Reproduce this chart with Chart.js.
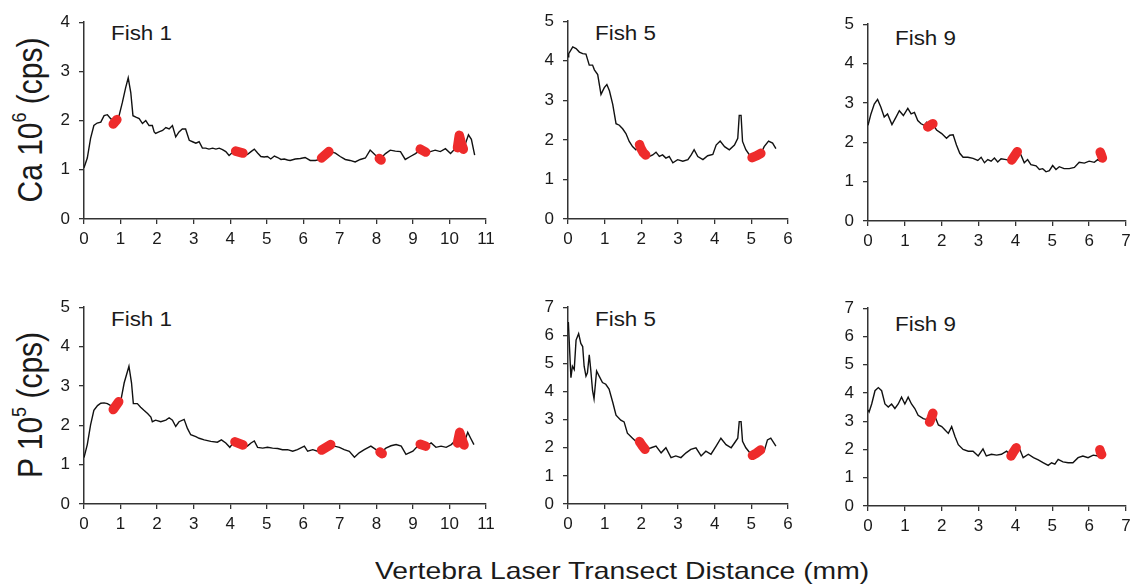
<!DOCTYPE html>
<html><head><meta charset="utf-8">
<script src="https://cdn.jsdelivr.net/npm/chart.js@4.4.1/dist/chart.umd.min.js"></script>
<style>
html,body{margin:0;padding:0;background:#fff;width:1133px;height:587px;overflow:hidden;position:relative;font-family:"Liberation Sans",Arial,sans-serif;color:#1a1a1a}
canvas.pc{position:absolute}
.lbl{position:absolute;font-size:20px;line-height:20px;white-space:nowrap;transform:scaleX(1.12);transform-origin:0 0}
.ytitle{position:absolute;font-size:30px;line-height:30px;white-space:nowrap;transform:translate(-50%,-50%) scaleX(1.17) rotate(-90deg)}
.ytitle sup{font-size:18px;line-height:0;position:relative;top:-2px}
.xtitle{position:absolute;font-size:24px;line-height:24px;white-space:nowrap;transform:scaleX(1.18);transform-origin:0 0}
</style>
</head><body>
<div class="ytitle" style="left:30px;top:120px">Ca 10<sup>6</sup> (cps)</div>
<div class="ytitle" style="left:30px;top:405px">P 10<sup>5</sup> (cps)</div>
<div class="xtitle" style="left:375px;top:559px">Vertebra Laser Transect Distance (mm)</div>
<div class="lbl" style="left:111px;top:23px">Fish 1</div>
<div class="lbl" style="left:595px;top:23px">Fish 5</div>
<div class="lbl" style="left:895px;top:28px">Fish 9</div>
<div class="lbl" style="left:111px;top:309px">Fish 1</div>
<div class="lbl" style="left:595px;top:309px">Fish 5</div>
<div class="lbl" style="left:895px;top:314px">Fish 9</div>
<script>
// ---------- DATA ----------
const fish1CaX = [0.00,0.09,0.18,0.27,0.36,0.46,0.55,0.64,0.73,0.85,0.96,1.05,1.14,1.21,1.28,1.34,1.42,1.51,1.60,1.69,1.78,1.87,1.92,1.96,2.05,2.15,2.24,2.33,2.42,2.51,2.60,2.69,2.78,2.88,2.97,3.06,3.15,3.24,3.33,3.42,3.52,3.61,3.70,3.79,3.88,3.97,4.06,4.15,4.25,4.36,4.47,4.57,4.66,4.75,4.84,4.93,5.02,5.11,5.21,5.30,5.39,5.48,5.57,5.64,5.78,5.92,6.05,6.19,6.33,6.46,6.60,6.74,6.88,7.01,7.15,7.28,7.42,7.56,7.70,7.83,7.97,8.10,8.25,8.38,8.52,8.66,8.79,8.93,9.07,9.20,9.35,9.48,9.61,9.75,9.89,10.03,10.12,10.25,10.40,10.52,10.60,10.69];
const fish1CaY = [1.04,1.24,1.64,1.90,1.95,1.97,2.10,2.12,2.04,1.97,2.10,2.37,2.67,2.87,2.57,2.10,2.07,2.04,1.94,2.00,1.90,1.90,1.77,1.74,1.77,1.80,1.86,1.83,1.90,1.67,1.77,1.83,1.83,1.60,1.57,1.54,1.57,1.44,1.44,1.42,1.44,1.42,1.44,1.41,1.37,1.29,1.35,1.38,1.37,1.33,1.31,1.37,1.42,1.34,1.27,1.26,1.27,1.22,1.28,1.25,1.21,1.22,1.20,1.19,1.22,1.23,1.25,1.19,1.19,1.21,1.29,1.37,1.34,1.27,1.21,1.19,1.16,1.21,1.24,1.40,1.30,1.22,1.33,1.40,1.38,1.37,1.21,1.27,1.33,1.40,1.37,1.37,1.40,1.37,1.43,1.33,1.40,1.45,1.45,1.71,1.62,1.30];
const fish1CaRedX = [0.80,0.90,null,4.15,4.35,null,6.50,6.70,null,8.08,8.13,null,9.20,9.35,null,10.22,10.27,10.32,10.38];
const fish1CaRedY = [1.93,2.02,null,1.38,1.34,null,1.24,1.37,null,1.23,1.20,null,1.42,1.36,null,1.45,1.70,1.55,1.42];

const fish1PX = [0.00,0.09,0.18,0.27,0.37,0.46,0.55,0.64,0.73,0.87,1.00,1.10,1.23,1.30,1.35,1.46,1.55,1.64,1.74,1.83,1.87,1.96,2.10,2.24,2.33,2.42,2.51,2.60,2.74,2.83,2.92,3.06,3.15,3.29,3.47,3.65,3.76,3.88,3.99,4.11,4.25,4.38,4.47,4.57,4.66,4.75,4.89,5.02,5.16,5.30,5.43,5.57,5.71,5.84,6.03,6.12,6.26,6.39,6.55,6.70,6.85,6.99,7.12,7.26,7.40,7.53,7.67,7.85,7.99,8.13,8.26,8.40,8.54,8.68,8.81,9.00,9.13,9.27,9.36,9.50,9.63,9.77,9.91,10.05,10.14,10.25,10.40,10.50,10.58,10.67];
const fish1PY = [1.18,1.51,2.01,2.38,2.50,2.56,2.57,2.55,2.50,2.50,2.59,3.08,3.50,3.08,2.55,2.55,2.46,2.38,2.30,2.21,2.09,2.13,2.09,2.13,2.19,2.13,1.97,2.09,2.15,1.92,1.76,1.71,1.67,1.63,1.59,1.57,1.63,1.55,1.44,1.59,1.54,1.51,1.47,1.55,1.60,1.44,1.42,1.44,1.42,1.41,1.38,1.38,1.34,1.38,1.47,1.34,1.38,1.34,1.40,1.48,1.47,1.44,1.38,1.34,1.19,1.30,1.38,1.47,1.38,1.31,1.42,1.48,1.51,1.47,1.26,1.34,1.47,1.50,1.47,1.55,1.44,1.47,1.44,1.51,1.59,1.55,1.55,1.82,1.67,1.51];
const fish1PRedX = [0.80,0.95,null,4.13,4.35,null,6.50,6.75,null,8.10,8.16,null,9.20,9.35,null,10.22,10.28,10.35,10.40];
const fish1PRedY = [2.40,2.60,null,1.58,1.50,null,1.37,1.51,null,1.32,1.28,null,1.52,1.47,null,1.55,1.82,1.62,1.50];

const fish5CaX = [0.00,0.02,0.13,0.22,0.31,0.40,0.49,0.58,0.67,0.72,0.81,0.90,0.99,1.06,1.13,1.22,1.31,1.40,1.49,1.58,1.67,1.76,1.85,1.95,2.04,2.13,2.22,2.31,2.40,2.49,2.58,2.67,2.76,2.86,2.99,3.13,3.27,3.36,3.44,3.54,3.68,3.81,3.95,4.04,4.15,4.27,4.40,4.54,4.63,4.67,4.72,4.76,4.85,4.95,5.05,5.15,5.26,5.35,5.47,5.58,5.67];
const fish5CaY = [4.10,4.18,4.35,4.31,4.22,4.18,4.17,3.89,3.89,3.77,3.65,3.15,3.32,3.40,3.24,2.90,2.41,2.37,2.28,2.16,1.96,1.83,1.75,1.85,1.70,1.63,1.58,1.62,1.69,1.58,1.62,1.54,1.58,1.42,1.50,1.46,1.50,1.62,1.75,1.58,1.50,1.60,1.63,1.87,1.97,1.83,1.75,1.87,2.04,2.62,2.62,1.96,1.75,1.62,1.55,1.60,1.65,1.83,1.97,1.92,1.78];
const fish5CaRedX = [1.95,1.98,2.05,2.12,null,5.02,5.15,5.26];
const fish5CaRedY = [1.88,1.80,1.68,1.62,null,1.55,1.60,1.66];

const fish5PX = [0.00,0.01,0.04,0.08,0.12,0.17,0.22,0.29,0.35,0.40,0.44,0.49,0.53,0.58,0.62,0.67,0.71,0.78,0.85,0.94,1.03,1.12,1.22,1.31,1.44,1.53,1.62,1.76,1.90,2.05,2.13,2.27,2.40,2.54,2.67,2.81,2.94,3.08,3.22,3.35,3.49,3.63,3.76,3.90,4.04,4.17,4.31,4.45,4.54,4.63,4.67,4.72,4.76,4.85,4.99,5.15,5.26,5.35,5.44,5.53,5.67];
const fish5PY = [6.20,6.47,5.60,4.49,4.90,4.78,5.83,6.06,5.71,5.60,4.90,4.55,4.67,5.31,4.78,4.03,3.74,4.73,4.55,4.32,4.26,4.09,3.62,3.16,2.98,2.92,2.52,2.34,2.17,2.05,1.94,2.00,2.06,1.82,2.00,1.65,1.71,1.65,1.82,1.94,2.00,1.71,1.88,1.77,2.06,2.34,2.11,2.00,2.17,2.34,2.93,2.93,2.23,2.00,1.77,1.85,1.94,1.88,2.28,2.34,2.06];
const fish5PRedX = [1.95,2.02,2.10,null,5.03,5.15,5.25];
const fish5PRedY = [2.22,2.08,1.95,null,1.73,1.82,1.92];

const fish9CaX = [0.00,0.08,0.17,0.26,0.35,0.44,0.53,0.65,0.76,0.85,0.96,1.08,1.17,1.26,1.35,1.44,1.53,1.59,1.69,1.76,1.86,2.00,2.13,2.22,2.31,2.40,2.49,2.58,2.71,2.85,2.98,3.07,3.16,3.25,3.34,3.43,3.52,3.61,3.75,3.84,3.97,4.06,4.15,4.24,4.33,4.42,4.56,4.65,4.74,4.83,4.92,5.01,5.10,5.19,5.32,5.46,5.60,5.73,5.87,6.00,6.14,6.23,6.30];
const fish9CaY = [2.43,2.72,2.97,3.09,2.89,2.64,2.72,2.45,2.64,2.80,2.68,2.86,2.72,2.76,2.55,2.47,2.43,2.51,2.43,2.47,2.31,2.22,2.10,2.18,2.19,1.93,1.72,1.62,1.62,1.59,1.54,1.62,1.48,1.56,1.52,1.60,1.50,1.58,1.56,1.54,1.62,1.77,1.68,1.48,1.56,1.43,1.40,1.31,1.33,1.25,1.28,1.41,1.31,1.38,1.33,1.33,1.36,1.49,1.47,1.52,1.49,1.56,1.52];
const fish9CaRedX = [1.62,1.70,1.76,null,3.90,3.97,4.05,null,6.30,6.33,6.36];
const fish9CaRedY = [2.39,2.44,2.47,null,1.55,1.65,1.76,null,1.75,1.68,1.60];

const fish9PX = [0.00,0.03,0.10,0.19,0.28,0.37,0.46,0.55,0.64,0.73,0.82,0.91,1.00,1.09,1.18,1.27,1.36,1.50,1.62,1.72,1.82,1.91,2.00,2.09,2.18,2.27,2.36,2.45,2.58,2.72,2.85,2.99,3.12,3.21,3.35,3.49,3.62,3.76,3.85,3.95,4.02,4.12,4.21,4.35,4.49,4.62,4.76,4.89,4.98,5.07,5.16,5.29,5.43,5.56,5.70,5.83,5.97,6.11,6.24,6.30];
const fish9PY = [3.40,3.33,3.61,4.08,4.19,4.08,3.61,3.50,3.61,3.45,3.61,3.85,3.61,3.85,3.61,3.45,3.21,3.09,3.05,3.15,3.16,2.87,2.81,2.69,2.57,2.81,2.46,2.17,2.00,1.94,1.94,1.77,2.02,1.77,1.83,1.80,1.83,1.94,1.83,1.90,2.03,2.00,1.71,1.83,1.71,1.63,1.53,1.44,1.53,1.48,1.65,1.56,1.53,1.53,1.71,1.77,1.71,1.80,1.77,1.80];
const fish9PRedX = [1.67,1.72,1.76,null,3.88,3.95,4.02,null,6.29,6.31,6.34];
const fish9PRedY = [2.97,3.12,3.28,null,1.77,1.92,2.06,null,1.99,1.90,1.82];

// axis ranges (tick labels are the integers 0..max)
const xMaxFish1 = 11, xMaxFish5 = 6, xMaxFish9 = 7;
const yMaxCa1 = 4, yMaxCa5 = 5, yMaxCa9 = 5;
const yMaxP1 = 5, yMaxP5 = 7, yMaxP9 = 7;

// ---------- LAYOUT ----------
const PAD_L = 50, PAD_T = 15, PAD_R = 18, PAD_B = 35;
const AXIS_COLOR = '#333';
const TICK_FONT = {family:'Liberation Sans', size:17};

function toPts(xs, ys){
  return xs.map((x,i)=>({x: x===null ? xs[i-1] : x, y: ys[i]}));
}

function makePanel(area, xMax, yMax, xs, ys, rx, ry){
  const c = document.createElement('canvas');
  const w = area.r - area.l + PAD_L + PAD_R;
  const h = area.b - area.t + PAD_T + PAD_B;
  c.width = w; c.height = h;
  c.className = 'pc';
  c.style.left = (area.l - PAD_L) + 'px';
  c.style.top = (area.t - PAD_T) + 'px';
  c.style.width = w + 'px'; c.style.height = h + 'px';
  document.body.appendChild(c);
  const mkGrid = () => ({drawOnChartArea:false, drawTicks:true, tickLength:5, color:AXIS_COLOR, lineWidth:1.3});
  const mkBorder = () => ({display:true, color:AXIS_COLOR, width:1.5});
  new Chart(c, {
    type:'line',
    data:{datasets:[
      {data:toPts(rx, ry), borderColor:'#ee2b2b', borderWidth:9.5, borderCapStyle:'round', borderJoinStyle:'round', pointRadius:0, spanGaps:false, tension:0, order:0},
      {data:toPts(xs, ys), borderColor:'#111', borderWidth:1.4, pointRadius:0, tension:0, order:1}
    ]},
    options:{
      responsive:false, animation:false, devicePixelRatio:1, events:[],
      layout:{padding:{left:0, top:PAD_T, right:PAD_R, bottom:0}},
      plugins:{legend:{display:false}, tooltip:{enabled:false}, title:{display:false}},
      scales:{
        x:{type:'linear', min:0, max:xMax,
          ticks:{stepSize:1, autoSkip:false, maxRotation:0, color:'#1a1a1a', font:TICK_FONT, padding:5},
          grid:mkGrid(), border:mkBorder(),
          afterFit:s=>{s.height = PAD_B;}},
        y:{type:'linear', min:0, max:yMax,
          ticks:{stepSize:1, color:'#1a1a1a', font:TICK_FONT, padding:9},
          grid:mkGrid(), border:mkBorder(),
          afterFit:s=>{s.width = PAD_L;}}
      }
    }
  });
}

makePanel({l:84, r:486, t:18, b:219}, xMaxFish1, yMaxCa1, fish1CaX, fish1CaY, fish1CaRedX, fish1CaRedY);
makePanel({l:568, r:788, t:17, b:219}, xMaxFish5, yMaxCa5, fish5CaX, fish5CaY, fish5CaRedX, fish5CaRedY);
makePanel({l:868, r:1126, t:20, b:221}, xMaxFish9, yMaxCa9, fish9CaX, fish9CaY, fish9CaRedX, fish9CaRedY);
makePanel({l:84, r:486, t:303, b:504}, xMaxFish1, yMaxP1, fish1PX, fish1PY, fish1PRedX, fish1PRedY);
makePanel({l:568, r:788, t:303, b:504}, xMaxFish5, yMaxP5, fish5PX, fish5PY, fish5PRedX, fish5PRedY);
makePanel({l:868, r:1126, t:304, b:506}, xMaxFish9, yMaxP9, fish9PX, fish9PY, fish9PRedX, fish9PRedY);
</script>
</body></html>
